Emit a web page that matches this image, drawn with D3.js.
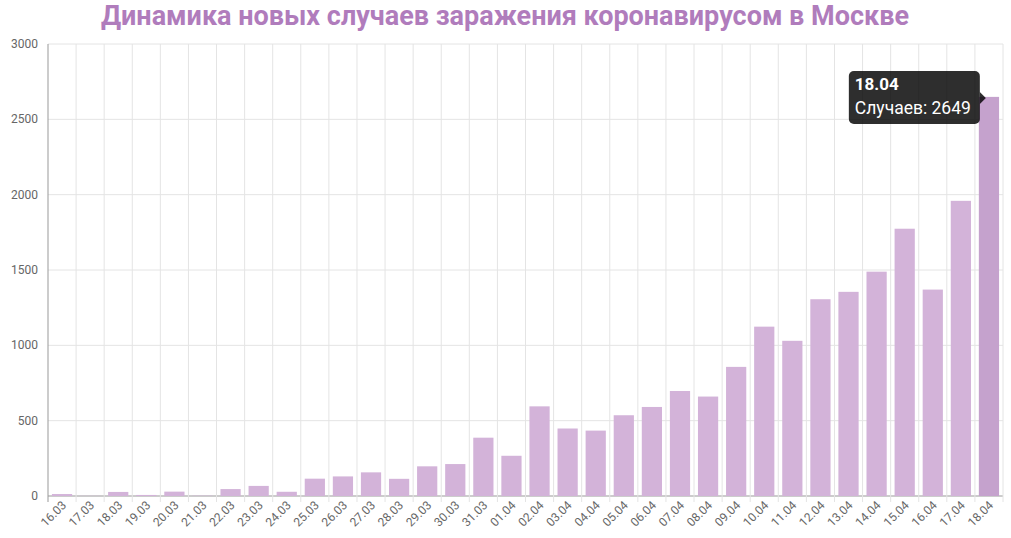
<!DOCTYPE html>
<html><head><meta charset="utf-8">
<script src="https://cdn.jsdelivr.net/npm/d3@7"></script>
<style>body{margin:0;background:#fff}</style>
</head><body>
<svg id="chart" width="1011" height="538"></svg>
<script>
var dates = ["16.03","17.03","18.03","19.03","20.03","21.03","22.03","23.03","24.03","25.03","26.03","27.03","28.03","29.03","30.03","31.03","01.04","02.04","03.04","04.04","05.04","06.04","07.04","08.04","09.04","10.04","11.04","12.04","13.04","14.04","15.04","16.04","17.04","18.04"];
var cases = [13,1,27,7,29,2,46,67,28,115,130,157,114,197,212,387,267,595,448,434,536,591,697,660,857,1124,1030,1306,1355,1489,1774,1370,1959,2649];
var yTicks = [0,500,1000,1500,2000,2500,3000];

var svg = d3.select("#chart");
var m = {left:48, right:1003, top:44, bottom:496};
var x = d3.scaleBand().domain(dates).range([m.left, m.right]).paddingInner(0.28).paddingOuter(0.14);
var y = d3.scaleLinear().domain([0,3000]).range([m.bottom, m.top]);
var step = x.step();

svg.append("text").attr("x",505).attr("y",25).attr("text-anchor","middle")
  .style("font-family","Roboto, sans-serif").style("font-weight","bold").style("font-size","27px")
  .attr("fill","#b07cbc").text("Динамика новых случаев заражения коронавирусом в Москве");

// сетка
svg.selectAll(".hg").data(yTicks).enter().append("line")
  .attr("x1",m.left).attr("x2",m.right).attr("y1",d=>y(d)).attr("y2",d=>y(d))
  .attr("stroke", d=>d===0?"#999":"#e4e4e4");
svg.selectAll(".vg").data(d3.range(dates.length+1)).enter().append("line")
  .attr("x1",i=>m.left+i*step).attr("x2",i=>m.left+i*step).attr("y1",m.top).attr("y2",m.bottom+6)
  .attr("stroke", i=>i===0?"#999":"#e4e4e4");

svg.selectAll(".yl").data(yTicks).enter().append("text")
  .attr("x",38).attr("y",d=>y(d)+4).attr("text-anchor","end")
  .style("font-family","Roboto, sans-serif").style("font-size","12px").attr("fill","#666").text(d=>d);

svg.selectAll(".xl").data(dates).enter().append("text")
  .attr("transform",d=>"translate("+(x(d)+x.bandwidth()/2+5)+","+(m.bottom+10)+") rotate(-45)")
  .attr("text-anchor","end")
  .style("font-family","Roboto, sans-serif").style("font-size","12px").attr("fill","#666").text(d=>d);

// столбцы
svg.selectAll(".bar").data(cases).enter().append("rect")
  .attr("x",(d,i)=>x(dates[i])).attr("width",x.bandwidth())
  .attr("y",d=>y(d)).attr("height",d=>m.bottom-y(d))
  .attr("fill",(d,i)=>i===dates.length-1?"#c5a2cd":"#d3b3d9");

// подсказка
var last = dates.length-1;
var tx = x(dates[last]) - 130, ty = 71;
var tip = svg.append("g").attr("transform","translate("+tx+","+ty+")");
tip.append("rect").attr("width",131).attr("height",53).attr("rx",5).attr("fill","rgba(0,0,0,0.82)");
tip.append("path").attr("d","M131,21 L137,27 L131,33 Z").attr("fill","rgba(0,0,0,0.82)");
tip.append("text").attr("x",6).attr("y",19).attr("fill","#fff")
  .style("font-family","Roboto, sans-serif").style("font-weight","bold").style("font-size","17px").text(dates[last]);
tip.append("text").attr("x",6).attr("y",43).attr("fill","#fff")
  .style("font-family","Roboto, sans-serif").style("font-size","17.5px").text("Случаев: "+cases[last]);
</script>
</body></html>
